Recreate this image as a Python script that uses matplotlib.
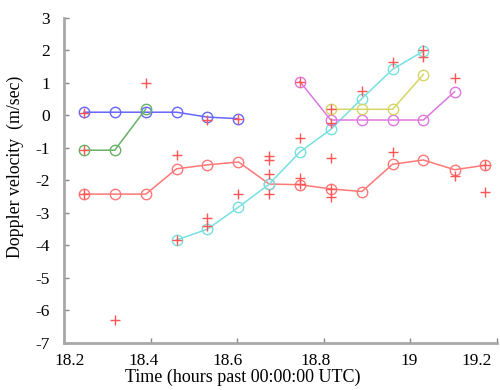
import matplotlib
matplotlib.use("Agg")
import matplotlib.pyplot as plt
import matplotlib.transforms as mtransforms
import numpy as np

plt.rcParams['font.family'] = ['Liberation Serif', 'DejaVu Serif']

# time samples (hours past 00:00:00 UTC)
times = [18.246, 18.317, 18.389, 18.460, 18.531, 18.603, 18.674,
         18.745, 18.816, 18.888, 18.959, 19.030, 19.102, 19.173]

# tracks: (sample indices, values)
blue_idx = [0, 1, 2, 3, 4, 5]
blue_vals = [0.1, 0.1, 0.1, 0.1, -0.05, -0.1]
green_idx = [0, 1, 2]
green_vals = [-1.07, -1.07, 0.2]
red_idx = list(range(14))
red_vals = [-2.42, -2.42, -2.42, -1.64, -1.52, -1.43, -2.11, -2.13,
            -2.26, -2.34, -1.50, -1.37, -1.67, -1.53]
cyan_idx = [3, 4, 5, 6, 7, 8, 9, 10, 11]
cyan_vals = [-3.83, -3.50, -2.82, -2.11, -1.12, -0.43, 0.52, 1.42, 1.98]
magenta_idx = [7, 8, 9, 10, 11, 12]
magenta_vals = [1.04, -0.14, -0.14, -0.14, -0.14, 0.73]
yellow_idx = [8, 9, 10, 11]
yellow_vals = [0.19, 0.19, 0.19, 1.26]

# raw measurements (+)
cross_idx = [0, 0, 0, 1, 2, 3, 3, 4, 4, 4, 5, 5, 6, 6, 6, 6,
             7, 7, 7, 7, 8, 8, 8, 8, 8, 9, 10, 10, 11, 11, 12, 12, 13, 13]
cross_vals = [0.08, -1.07, -2.42, -6.29, 1.0, -1.22, -3.83, -0.14, -3.14, -3.40,
              -0.11, -2.41, -1.25, -1.36, -1.80, -2.42,
              1.04, -0.69, -1.92, -2.10, 0.19, -0.23, -1.31, -2.26, -2.52,
              0.75, 1.63, -1.12, 2.0, 1.81, 1.14, -1.87, -1.53, -2.37]

xticks = [18.2, 18.4, 18.6, 18.8, 19.0, 19.2]
xticklabels = ['18.2', '18.4', '18.6', '18.8', '19', '19.2']
yticks = [3, 2, 1, 0, -1, -2, -3, -4, -5, -6, -7]

fig = plt.figure(figsize=(5.0, 3.9), dpi=100)
ax = fig.add_axes([0.128, 0.1205, 0.866, 0.8335])

tracks = [
    (blue_idx, blue_vals, '#6666ff'),
    (green_idx, green_vals, '#66b266'),
    (red_idx, red_vals, '#ff7777'),
    (cyan_idx, cyan_vals, '#77e0e0'),
    (magenta_idx, magenta_vals, '#e077e0'),
    (yellow_idx, yellow_vals, '#d6d666'),
]
for idx, vals, col in tracks:
    ax.plot([times[i] for i in idx], vals, '-o', color=col, lw=1.1,
            markersize=7.5, markerfacecolor='none', markeredgecolor=col,
            markeredgewidth=1.0)

ax.plot([times[i] for i in cross_idx], cross_vals, '+', color='#ff5555',
        markersize=7.5, markeredgewidth=1.0, linestyle='none')

ax.set_xlim(18.2, 19.193)
ax.set_ylim(-7, 3)
ax.set_xticks(xticks)
ax.set_xticklabels(xticklabels)
ax.set_yticks(yticks)
ax.set_yticklabels([str(v) for v in yticks])

for s in ['top', 'right']:
    ax.spines[s].set_visible(False)
for s in ['left', 'bottom']:
    ax.spines[s].set_color('#a8a8a8')
    ax.spines[s].set_linewidth(2)
ax.tick_params(direction='in', length=3.5, width=1, color='#888888',
               labelsize=12.5)
ax.tick_params(axis='x', pad=7.5)
ax.tick_params(axis='y', pad=10)

# per-label horizontal nudges (pixels) to mimic the reference placement
nudges = [6, -7, -10, -8, -1, -20]
for lbl, dx in zip(ax.get_xticklabels(), nudges):
    lbl.set_transform(lbl.get_transform() +
                      mtransforms.ScaledTranslation(dx / 100.0, 0, fig.dpi_scale_trans))

ax.set_xlabel('Time (hours past 00:00:00 UTC)', fontsize=13)
ax.xaxis.set_label_coords(0.413, -0.079)
ax.xaxis.label.set_va('top')
ax.set_ylabel('Doppler velocity  (m/sec)', fontsize=12.8)
ax.yaxis.set_label_coords(-0.092, 0.543)

fig.savefig('out.png', dpi=100)
